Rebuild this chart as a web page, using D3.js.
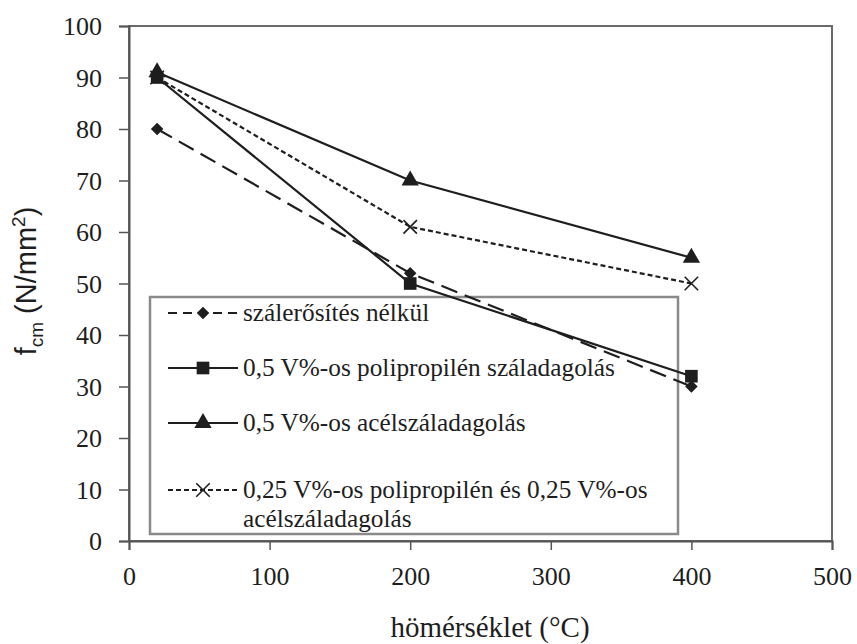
<!DOCTYPE html>
<html>
<head>
<meta charset="utf-8">
<script src="https://cdn.jsdelivr.net/npm/d3@7"></script>
<style>
  html, body { margin: 0; padding: 0; background: #fff; }
  svg { display: block; }
</style>
</head>
<body>
<svg id="chart" width="857" height="644"></svg>
<script>
// Temperatures (°C) at which compressive strength was measured
const temperatures = [20, 200, 400];

// Compressive strength fcm (N/mm²) for each mix
const plainValues     = [80, 52, 30];
const ppValues        = [90, 50, 32];
const steelValues     = [91, 70, 55];
const hybridValues    = [90, 61, 50];

const seriesNames = [
  "szálerősítés nélkül",
  "0,5 V%-os polipropilén száladagolás",
  "0,5 V%-os acélszáladagolás",
  "0,25 V%-os  polipropilén és 0,25 V%-os"
];
const hybridSecondLine = "acélszáladagolás";

const xTicks = [0, 100, 200, 300, 400, 500];
const yTicks = [0, 10, 20, 30, 40, 50, 60, 70, 80, 90, 100];

const series = [
  { name: seriesNames[0], values: plainValues,  marker: "diamond",  dash: "17,8", legendDash: "9,6" },
  { name: seriesNames[1], values: ppValues,     marker: "square",   dash: null,   legendDash: null },
  { name: seriesNames[2], values: steelValues,  marker: "triangle", dash: null,   legendDash: null },
  { name: seriesNames[3], values: hybridValues, marker: "cross",    dash: "5,3",  legendDash: "5,3" }
];

const svg = d3.select("#chart");
const serif = "'Liberation Serif', 'Times New Roman', serif";
const ink = "#1e1e1e";

const x = d3.scaleLinear().domain([0, 500]).range([129, 832]);
const y = d3.scaleLinear().domain([0, 100]).range([541, 26]);

// Plot frame
svg.append("rect")
  .attr("x", x(0)).attr("y", y(100))
  .attr("width", x(500) - x(0)).attr("height", y(0) - y(100))
  .attr("fill", "none").attr("stroke", "#6a6a6a").attr("stroke-width", 2);

// Axes
const xAxis = svg.append("g")
  .attr("transform", `translate(0,${y(0)})`)
  .call(d3.axisBottom(x).tickValues(xTicks).tickSize(9).tickPadding(17));
const yAxis = svg.append("g")
  .attr("transform", `translate(${x(0)},0)`)
  .call(d3.axisLeft(y).tickValues(yTicks).tickSize(10).tickPadding(17));

[xAxis, yAxis].forEach(g => {
  g.attr("font-family", serif).attr("font-size", 26);
  g.select(".domain").attr("stroke", "#555").attr("stroke-width", 2);
  g.selectAll(".tick line").attr("stroke", "#555").attr("stroke-width", 1.5);
  g.selectAll(".tick text").attr("fill", ink);
});
yAxis.selectAll(".tick text").attr("dy", "0.34em");

// Axis titles
svg.append("text")
  .attr("x", 490).attr("y", 637)
  .attr("text-anchor", "middle")
  .attr("font-family", serif).attr("font-size", 29)
  .attr("fill", ink)
  .text("hömérséklet (°C)");

const yTitle = svg.append("text")
  .attr("transform", "translate(36,281) rotate(-90)")
  .attr("text-anchor", "middle")
  .attr("font-family", "'Liberation Sans', Arial, sans-serif")
  .attr("font-size", 29)
  .attr("fill", ink);
yTitle.append("tspan").text("f");
yTitle.append("tspan").attr("dy", 7).attr("font-size", 19).text("cm");
yTitle.append("tspan").attr("dy", -7).text(" (N/mm");
yTitle.append("tspan").attr("dy", -11).attr("font-size", 19).text("2");
yTitle.append("tspan").attr("dy", 11).text(")");

// Marker drawing
function drawMarker(g, type, cx, cy) {
  if (type === "diamond") {
    g.append("path")
      .attr("d", d3.symbol().type(d3.symbolDiamond2).size(100)())
      .attr("transform", `translate(${cx},${cy})`)
      .attr("fill", ink);
  } else if (type === "square") {
    g.append("path")
      .attr("d", d3.symbol().type(d3.symbolSquare).size(160)())
      .attr("transform", `translate(${cx},${cy})`)
      .attr("fill", ink);
  } else if (type === "triangle") {
    g.append("path")
      .attr("d", d3.symbol().type(d3.symbolTriangle).size(130)())
      .attr("transform", `translate(${cx},${cy})`)
      .attr("fill", ink);
  } else if (type === "cross") {
    g.append("path")
      .attr("d", d3.symbol().type(d3.symbolX).size(120)())
      .attr("transform", `translate(${cx},${cy})`)
      .attr("fill", "none").attr("stroke", ink).attr("stroke-width", 1.6);
  }
}

// Legend box
const legend = svg.append("g");
legend.append("rect")
  .attr("x", 150).attr("y", 297).attr("width", 528).attr("height", 237)
  .attr("fill", "none").attr("stroke", "#8a8a8a").attr("stroke-width", 2.5);

const legendRows = [313, 368, 423, 490];
const legendFont = 25.3;
series.forEach((s, i) => {
  const ly = legendRows[i];
  legend.append("line")
    .attr("x1", 168).attr("x2", 238).attr("y1", ly).attr("y2", ly)
    .attr("stroke", ink).attr("stroke-width", 2)
    .attr("stroke-dasharray", s.legendDash);
  drawMarker(legend, s.marker, 203, ly);
  legend.append("text")
    .attr("x", 243).attr("y", ly + 8)
    .attr("font-family", serif).attr("font-size", legendFont)
    .attr("fill", ink)
    .text(s.name);
});
legend.append("text")
  .attr("x", 243).attr("y", 527)
  .attr("font-family", serif).attr("font-size", legendFont)
  .attr("fill", ink)
  .text(hybridSecondLine);

// Series lines and markers
const line = d3.line().x((d, i) => x(temperatures[i])).y(d => y(d));
const plot = svg.append("g");
series.forEach(s => {
  plot.append("path")
    .datum(s.values)
    .attr("d", line)
    .attr("fill", "none")
    .attr("stroke", ink)
    .attr("stroke-width", 2.2)
    .attr("stroke-dasharray", s.dash);
});
series.forEach(s => {
  s.values.forEach((v, i) => drawMarker(plot, s.marker, x(temperatures[i]), y(v)));
});
</script>
</body>
</html>
